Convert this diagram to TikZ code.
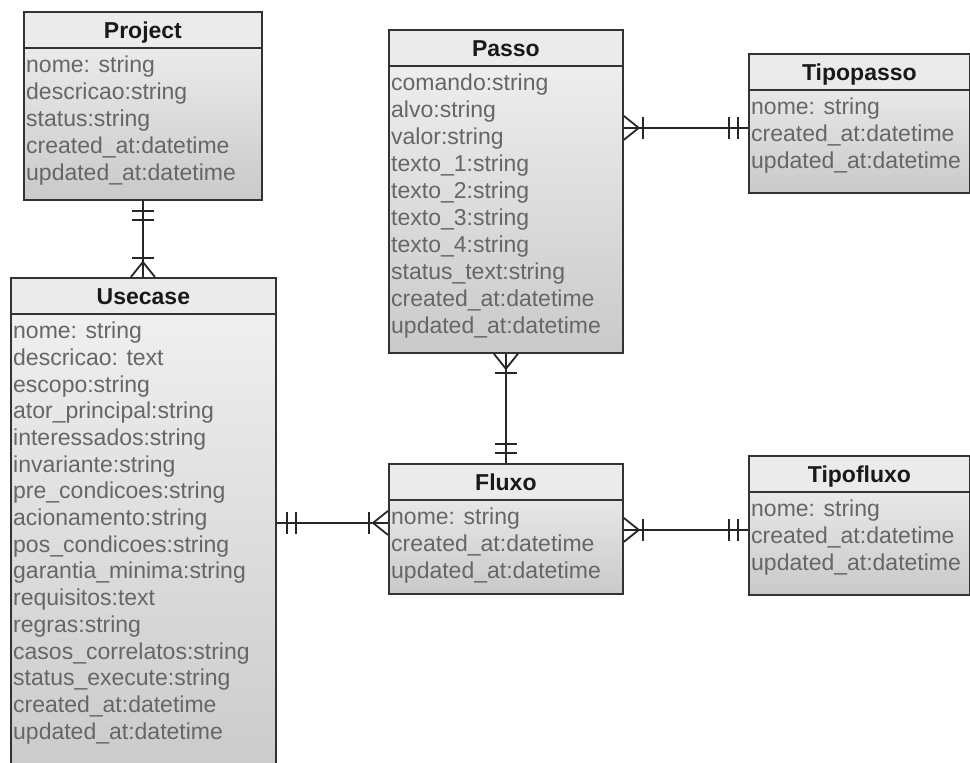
\documentclass[tikz,border=0pt]{standalone}
\usepackage{fontspec}
\setmainfont{Liberation Sans}
\usetikzlibrary{decorations.markings}

\tikzset{
  entity/.style={draw=black!80, line width=1.8pt, top color=black!5, bottom color=black!21,
    anchor=north west, inner sep=0pt},
  head/.style={draw=black!80, line width=1.8pt, fill=black!8, anchor=north west, inner sep=0pt,
    minimum height=36pt, text height=16.5pt, text depth=0pt, text=black!90,
    font=\fontsize{23}{27}\selectfont\bfseries},
  attrs/.style={anchor=north west, align=left, inner xsep=3pt, inner ysep=5pt, text=black!60,
    font=\fontsize{23}{27}\selectfont},
  link/.style={draw=black!85, line width=1.8pt},
  tick/.style={draw=black!85, line width=1.8pt},
  one start/.style={postaction={decorate, decoration={markings,
    mark=at position 10pt with {\draw[tick] (0,-11pt) -- (0,11pt);},
    mark=at position 19pt with {\draw[tick] (0,-11pt) -- (0,11pt);}}}},
  one end/.style={postaction={decorate, decoration={markings,
    mark=at position -10pt with {\draw[tick] (0,-11pt) -- (0,11pt);},
    mark=at position -19pt with {\draw[tick] (0,-11pt) -- (0,11pt);}}}},
  many start/.style={postaction={decorate, decoration={markings,
    mark=at position 15pt with {\draw[tick] (-15pt,12pt) -- (0,0) -- (-15pt,-12pt);},
    mark=at position 19pt with {\draw[tick] (0,-11pt) -- (0,11pt);}}}},
  many end/.style={postaction={decorate, decoration={markings,
    mark=at position -15pt with {\draw[tick] (15pt,12pt) -- (0,0) -- (15pt,-12pt);},
    mark=at position -19pt with {\draw[tick] (0,-11pt) -- (0,11pt);}}}},
}

\begin{document}
\begin{tikzpicture}[x=1pt, y=1pt]
\clip (0,0) rectangle (970,-763);

\node[entity, minimum width=238pt, minimum height=188pt] (project) at (23,-11) {};
\node[head, minimum width=238pt] (project-h) at (project.north west) {Project};
\node[attrs] (project-a) at (project-h.south west) {\strut nome: string\\ descricao:string\\
  status:string\\ created\_at:datetime\\ updated\_at:datetime};

\node[entity, minimum width=265pt, minimum height=510pt] (usecase) at (10,-277) {};
\node[head, minimum width=265pt] (usecase-h) at (usecase.north west) {Usecase};
\node[attrs, font=\fontsize{23}{26.7}\selectfont] (usecase-a) at (usecase-h.south west) {\strut nome: string\\ descricao: text\\
  escopo:string\\ ator\_principal:string\\ interessados:string\\ invariante:string\\
  pre\_condicoes:string\\ acionamento:string\\ pos\_condicoes:string\\
  garantia\_minima:string\\ requisitos:text\\ regras:string\\ casos\_correlatos:string\\
  status\_execute:string\\ created\_at:datetime\\ updated\_at:datetime};

\node[entity, minimum width=234pt, minimum height=323pt] (passo) at (388,-29) {};
\node[head, minimum width=234pt] (passo-h) at (passo.north west) {Passo};
\node[attrs] (passo-a) at (passo-h.south west) {\strut comando:string\\ alvo:string\\
  valor:string\\ texto\_1:string\\ texto\_2:string\\ texto\_3:string\\ texto\_4:string\\
  status\_text:string\\ created\_at:datetime\\ updated\_at:datetime};

\node[entity, minimum width=221pt, minimum height=139pt] (tipopasso) at (748,-53) {};
\node[head, minimum width=221pt] (tipopasso-h) at (tipopasso.north west) {Tipopasso};
\node[attrs] (tipopasso-a) at (tipopasso-h.south west) {\strut nome: string\\
  created\_at:datetime\\ updated\_at:datetime};

\node[entity, minimum width=234pt, minimum height=130pt] (fluxo) at (388,-463) {};
\node[head, minimum width=234pt] (fluxo-h) at (fluxo.north west) {Fluxo};
\node[attrs] (fluxo-a) at (fluxo-h.south west) {\strut nome: string\\
  created\_at:datetime\\ updated\_at:datetime};

\node[entity, minimum width=221pt, minimum height=139pt] (tipofluxo) at (748,-455) {};
\node[head, minimum width=221pt] (tipofluxo-h) at (tipofluxo.north west) {Tipofluxo};
\node[attrs] (tipofluxo-a) at (tipofluxo-h.south west) {\strut nome: string\\
  created\_at:datetime\\ updated\_at:datetime};

\coordinate (fl-in) at ([yshift=6pt]fluxo.west);
\coordinate (tp-in) at ([yshift=-4.5pt]tipopasso.west);
\coordinate (tf-in) at ([yshift=-4.5pt]tipofluxo.west);

\draw[link, one start, many end] (project.south) -- (project.south |- usecase-h.north);
\draw[link, one start, many end] (usecase.east |- fl-in) -- (fl-in);
\draw[link, many start, one end] (passo.south) -- (fluxo-h.north);
\draw[link, many start, one end] (passo.east |- tp-in) -- (tp-in);
\draw[link, many start, one end] (fluxo.east |- tf-in) -- (tf-in);
\end{tikzpicture}
\end{document}
